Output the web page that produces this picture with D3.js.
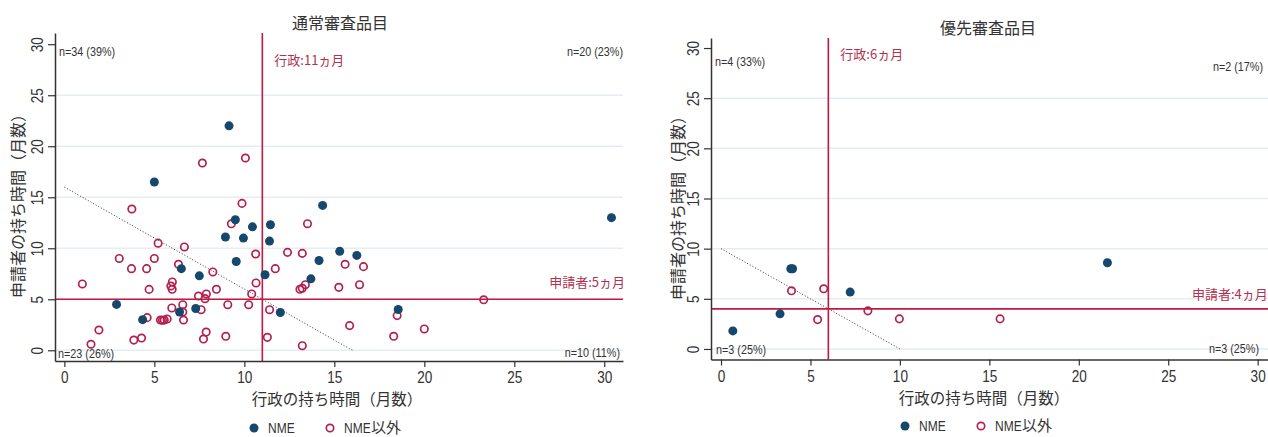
<!DOCTYPE html>
<html>
<head>
<meta charset="utf-8">
<title>審査期間 散布図</title>
<script src="https://d3js.org/d3.v7.min.js"></script>
<style>
  body { margin: 0; background: #fff; }
  text { font-family: "Liberation Sans", Arial, sans-serif; fill: #333; }
  text.jp { font-family: "Noto Sans CJK JP", "Noto Sans CJK SC", sans-serif; }
</style>
</head>
<body>
<svg id="chart" width="1268" height="437"></svg>
<script>
var seriesNames = ["NME", "NME以外"];
var panelTitles = ["通常審査品目", "優先審査品目"];
var xTitle = "行政の持ち時間（月数）";
var yTitle = "申請者の持ち時間（月数）";
var xTicks = [0, 5, 10, 15, 20, 25, 30];
var yTicks = [0, 5, 10, 15, 20, 25, 30];
var gridValues = [0, 5, 10, 15, 20, 25];

// 通常審査品目 [行政, 申請者]
var regularNME = [
  [9.15, 22.0], [5.0, 16.5], [9.5, 12.8], [10.45, 12.1], [11.45, 12.3], [8.95, 11.1],
  [9.95, 11.0], [11.4, 10.7], [14.35, 14.2], [9.55, 8.7], [6.5, 8.0], [7.5, 7.3],
  [11.15, 7.4], [13.7, 7.0], [14.15, 8.8], [15.3, 9.7], [16.25, 9.3], [2.9, 4.5],
  [4.35, 3.0], [6.4, 3.75], [7.3, 4.1], [12.0, 3.7], [18.55, 4.0], [30.4, 13.0]
];
var regularOther = [
  [7.67, 18.36], [10.06, 18.85], [3.75, 13.85], [9.87, 14.4], [9.28, 12.4], [5.21, 10.5],
  [6.67, 10.13], [3.05, 9.0], [5.0, 9.0], [3.73, 8.0], [4.57, 8.0], [6.34, 8.43],
  [8.25, 7.68], [10.63, 9.44], [12.4, 9.6], [13.22, 9.5], [11.72, 8.0], [1.0, 6.5],
  [4.71, 5.97], [6.0, 6.7], [5.92, 6.3], [5.99, 5.98], [8.45, 5.98], [10.65, 6.6],
  [10.41, 5.52], [7.45, 5.32], [7.89, 5.52], [7.82, 5.06], [13.09, 5.98], [13.22, 6.08],
  [13.39, 6.43], [9.08, 4.47], [10.24, 4.47], [6.58, 4.47], [5.97, 4.15], [7.6, 3.98],
  [11.4, 3.98], [6.58, 3.75], [6.62, 2.97], [4.6, 3.2], [5.34, 2.97], [5.45, 2.95],
  [5.55, 2.97], [5.71, 3.07], [1.92, 1.99], [1.48, 0.59], [3.86, 1.0], [4.29, 1.2],
  [7.88, 1.79], [7.73, 1.1], [8.97, 1.37], [11.28, 1.27], [13.22, 0.45], [15.25, 6.17],
  [13.51, 12.41], [15.6, 8.43], [16.62, 8.2], [16.4, 6.43], [15.85, 2.42], [18.3, 1.37],
  [18.49, 3.4], [20.0, 2.09], [23.3, 4.95]
];

// 優先審査品目 [行政, 申請者]
var priorityNME = [[0.66, 1.8], [3.3, 3.5], [3.9, 8.0], [4.0, 8.0], [7.22, 5.67], [21.6, 8.6]];
var priorityOther = [[3.94, 5.8], [5.74, 6.0], [5.4, 2.93], [8.21, 3.8], [9.97, 3.0], [15.6, 3.0]];

var adminMedian = [11, 6];
var applicantMedian = [5, 4];
var totalMedian = [16, 10];
var quadrantLabels = [
  ["n=34 (39%)", "n=20 (23%)", "n=23 (26%)", "n=10 (11%)"],
  ["n=4 (33%)", "n=2 (17%)", "n=3 (25%)", "n=3 (25%)"]
];

var nmeColor = "#16476d";
var otherColor = "#b3204d";
var refColor = "#c4183f";
var refText = "#b2304f";
var narrow = 0.8; // 細い欧文フォントの代わりに横方向を縮める

var svg = d3.select("#chart");

// 横に縮めた欧文テキスト
function narrowText(g, t, x, y, size, anchor) {
  return g.append("text").text(t)
    .attr("transform", "translate(" + x + "," + y + ") scale(" + narrow + ",1)")
    .attr("text-anchor", anchor || "start")
    .attr("font-size", size + "px");
}

var panels = [
  { nme: regularNME, other: regularOther, left: 55, right: 623, top: 33, bottom: 361,
    xd: [-0.52, 31.04], yd: [-1.05, 31.1], titleX: 340, titleY: 28.5,
    ytX: 24, ytY: 202, xtX: 337, xtY: 405, legX: 254, legY: 428,
    q: [[59, 56], [623, 56], [58, 358], [620, 357]], adminY: 65, applX: 625, applY: 287, applAnchor: "end" },
  { nme: priorityNME, other: priorityOther, left: 711, right: 1282, top: 38, bottom: 359.5,
    xd: [-0.56, 31.36], yd: [-1.05, 31.0], titleX: 988, titleY: 34,
    ytX: 684, ytY: 204, xtX: 984, xtY: 404, legX: 905, legY: 426,
    q: [[715, 66], [1263, 71], [716, 354], [1259, 353]], adminY: 59, applX: 1192, applY: 299, applAnchor: "start" }
];

panels.forEach(function (p, i) {
  var x = d3.scaleLinear().domain(p.xd).range([p.left, p.right]);
  var y = d3.scaleLinear().domain(p.yd).range([p.bottom, p.top]);
  var g = svg.append("g");

  // grid
  g.selectAll("line.grid").data(gridValues).enter().append("line")
    .attr("x1", p.left).attr("x2", p.right)
    .attr("y1", function (d) { return y(d); }).attr("y2", function (d) { return y(d); })
    .attr("stroke", "#e6edf3").attr("stroke-width", 1.5);

  // 合計の点線
  g.append("line")
    .attr("x1", x(0)).attr("y1", y(totalMedian[i]))
    .attr("x2", x(totalMedian[i])).attr("y2", y(0))
    .attr("stroke", "#333").attr("stroke-width", 1).attr("stroke-dasharray", "1,2");

  // 中央値の線
  g.append("line")
    .attr("x1", x(adminMedian[i])).attr("x2", x(adminMedian[i]))
    .attr("y1", p.top).attr("y2", p.bottom)
    .attr("stroke", refColor).attr("stroke-width", 1.6);
  g.append("line")
    .attr("x1", p.left).attr("x2", p.right)
    .attr("y1", y(applicantMedian[i])).attr("y2", y(applicantMedian[i]))
    .attr("stroke", refColor).attr("stroke-width", 1.6);

  // points
  g.selectAll("circle.other").data(p.other).enter().append("circle")
    .attr("cx", function (d) { return x(d[0]); })
    .attr("cy", function (d) { return y(d[1]); })
    .attr("r", 3.7).attr("fill", "none")
    .attr("stroke", otherColor).attr("stroke-width", 1.7);
  g.selectAll("circle.nme").data(p.nme).enter().append("circle")
    .attr("cx", function (d) { return x(d[0]); })
    .attr("cy", function (d) { return y(d[1]); })
    .attr("r", 4.5).attr("fill", nmeColor);

  // axes
  var xAxis = g.append("g").attr("transform", "translate(0," + p.bottom + ")")
    .call(d3.axisBottom(x).tickValues(xTicks).tickSize(6).tickSizeOuter(0).tickPadding(4));
  xAxis.selectAll("text")
    .attr("transform", "scale(" + narrow + ",1)")
    .attr("font-size", "17px").style("font-family", "Liberation Sans").style("fill", "#333");
  var yAxis = g.append("g").attr("transform", "translate(" + p.left + ",0)")
    .call(d3.axisLeft(y).tickValues(yTicks).tickSize(7).tickSizeOuter(0));
  yAxis.selectAll("text")
    .attr("transform", "rotate(-90) scale(" + narrow + ",1)")
    .attr("x", 0).attr("y", -12).attr("dy", 0)
    .attr("text-anchor", "middle").attr("font-size", "17px")
    .style("font-family", "Liberation Sans").style("fill", "#333");
  [xAxis, yAxis].forEach(function (a) {
    a.select(".domain").attr("stroke", "#333").attr("stroke-width", 1.5);
    a.selectAll(".tick line").attr("stroke", "#333").attr("stroke-width", 1.2);
  });

  // titles
  g.append("text").attr("class", "jp").text(panelTitles[i])
    .attr("x", p.titleX).attr("y", p.titleY)
    .attr("text-anchor", "middle").attr("font-size", "16px");
  g.append("text").attr("class", "jp").text(xTitle)
    .attr("x", p.xtX).attr("y", p.xtY)
    .attr("text-anchor", "middle").attr("font-size", "15.5px");
  g.append("text").attr("class", "jp").text(yTitle)
    .attr("transform", "translate(" + p.ytX + "," + p.ytY + ") rotate(-90)")
    .attr("text-anchor", "middle").attr("font-size", "16px");

  // 象限の件数
  quadrantLabels[i].forEach(function (t, k) {
    narrowText(g, t, p.q[k][0], p.q[k][1], 13.5, k % 2 === 0 ? "start" : "end");
  });

  // 中央値ラベル
  g.append("text").attr("class", "jp").text("行政:" + adminMedian[i] + "ヵ月")
    .attr("x", x(adminMedian[i]) + 12).attr("y", p.adminY)
    .attr("font-size", "13px").style("fill", refText);
  g.append("text").attr("class", "jp").text("申請者:" + applicantMedian[i] + "ヵ月")
    .attr("x", p.applX).attr("y", p.applY)
    .attr("text-anchor", p.applAnchor)
    .attr("font-size", "13px").style("fill", refText);

  // legend
  var leg = g.append("g").attr("transform", "translate(" + p.legX + "," + p.legY + ")");
  leg.append("circle").attr("cx", 0).attr("cy", 0).attr("r", 4.5).attr("fill", nmeColor);
  narrowText(leg, seriesNames[0], 14, 5, 15);
  leg.append("circle").attr("cx", 76).attr("cy", 0).attr("r", 3.7)
    .attr("fill", "none").attr("stroke", otherColor).attr("stroke-width", 1.7);
  narrowText(leg, "NME", 90, 5, 15);
  leg.append("text").attr("class", "jp").text(seriesNames[1].replace("NME", ""))
    .attr("x", 117).attr("y", 5).attr("font-size", "15px");
});
</script>
</body>
</html>
